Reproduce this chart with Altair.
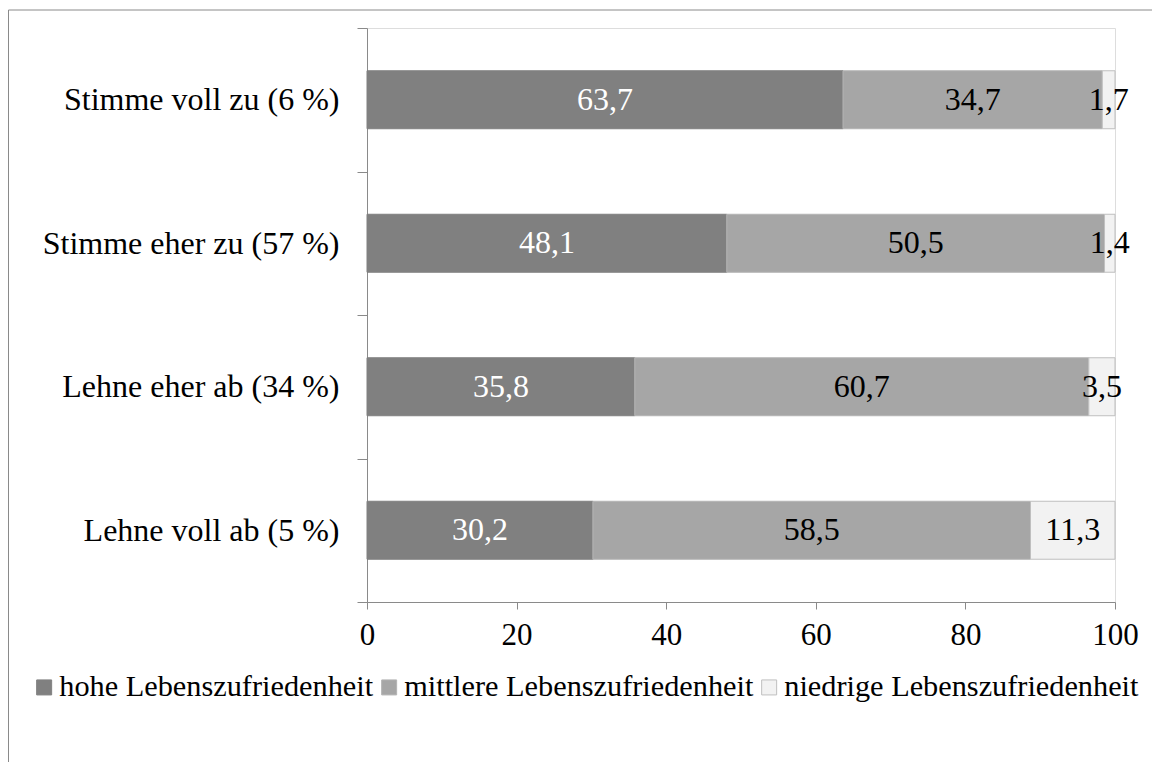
import altair as alt
import pandas as pd

categories = ["Stimme voll zu (6 %)", "Stimme eher zu (57 %)", "Lehne eher ab (34 %)", "Lehne voll ab (5 %)"]
levels = ["hohe Lebenszufriedenheit", "mittlere Lebenszufriedenheit", "niedrige Lebenszufriedenheit"]
hohe = [63.7, 48.1, 35.8, 30.2]
mittlere = [34.7, 50.5, 60.7, 58.5]
niedrige = [1.7, 1.4, 3.5, 11.3]
x_ticks = [0, 20, 40, 60, 80, 100]

fills = ["#808080", "#a6a6a6", "#f2f2f2"]
strokes = ["#808080", "#b4b4b4", "#bfbfbf"]
text_colors = ["#ffffff", "#000000", "#000000"]

rows = []
for ci, cat in enumerate(categories):
    for li, (lvl, series) in enumerate(zip(levels, [hohe, mittlere, niedrige])):
        v = series[ci]
        rows.append({"cat": cat, "level": lvl, "order": li, "value": v,
                     "label": f"{v:.1f}".replace(".", ","), "tcol": text_colors[li]})
df = pd.DataFrame(rows)

FONT = "Liberation Serif"
AX = "#8a8a8a"

base = alt.Chart(df).transform_stack(
    stack="value", groupby=["cat"], as_=["s0", "s1"],
    sort=[alt.SortField("order", order="ascending")], offset="normalize"
).transform_calculate(
    x0="datum.s0*100", x1="datum.s1*100", mid="(datum.s0+datum.s1)*50"
)

yscale = alt.Scale(domain=categories, paddingInner=0, paddingOuter=0)
xscale = alt.Scale(domain=[0, 100], nice=False)

bars = base.mark_bar(strokeWidth=1, height=alt.RelativeBandSize(0.404)).encode(
    y=alt.Y("cat:N", scale=yscale, sort=categories, title=None,
            axis=alt.Axis(tickBand="extent", tickSize=10, tickColor=AX, domainColor=AX,
                          labelFont=FONT, labelFontSize=32, labelColor="#000000",
                          labelPadding=18, labelLimit=400)),
    x=alt.X("x0:Q", scale=xscale, title=None,
            axis=alt.Axis(values=x_ticks, tickSize=7, tickColor=AX, domainColor=AX, grid=False,
                          labelFont=FONT, labelFontSize=31, labelColor="#000000", labelPadding=11,
                          labelFlush=False)),
    x2="x1:Q",
    fill=alt.Fill("level:N", scale=alt.Scale(domain=levels, range=fills), title=None,
                  legend=alt.Legend(orient="none", legendX=-338, legendY=644, direction="horizontal",
                                    symbolType="square", symbolSize=225, symbolStrokeWidth=1,
                                    labelFont=FONT, labelFontSize=30.3, labelColor="#000000",
                                    labelOffset=0, columnPadding=0, padding=0, labelLimit=500)),
    stroke=alt.Stroke("level:N", scale=alt.Scale(domain=levels, range=strokes), title=None),
)

texts = base.mark_text(font=FONT, fontSize=32, baseline="middle", align="center").encode(
    y=alt.Y("cat:N", scale=yscale, sort=categories),
    x=alt.X("mid:Q", scale=xscale),
    text="label:N",
    color=alt.Color("tcol:N", scale=None),
)

frame_src = pd.DataFrame({"f": [0]})
frame_left = alt.Chart(frame_src).mark_rule(color=AX, strokeWidth=1).encode(
    x=alt.value(-358.5), y=alt.value(-18), y2=alt.value(760))
frame_top = alt.Chart(frame_src).mark_rule(color=AX, strokeWidth=1).encode(
    x=alt.value(-358.5), x2=alt.value(800), y=alt.value(-18))

chart = alt.layer(bars, texts, frame_left, frame_top).properties(
    width=748, height=574,
    autosize=alt.AutoSizeParams(type="none"),
    padding={"left": 359, "top": 20, "right": 37, "bottom": 160},
).configure_view(stroke=None).configure(background="#ffffff")

chart.save("out.html", embed_options={"renderer": "svg", "actions": False})
